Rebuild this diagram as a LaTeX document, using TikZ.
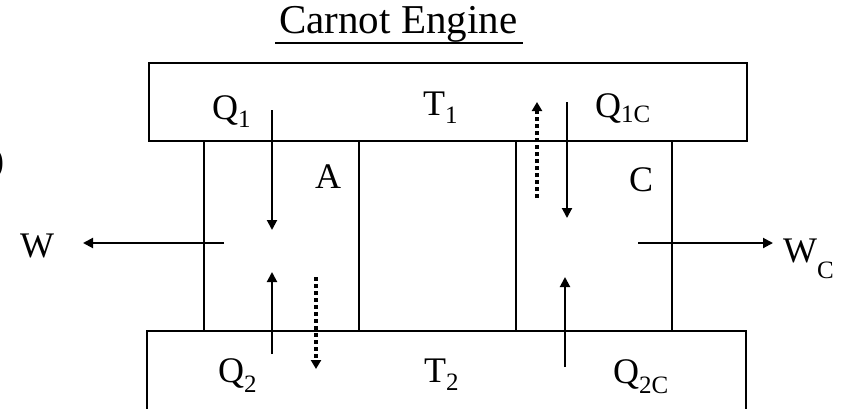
\documentclass[tikz,border=0pt]{standalone}
\usepackage{fontspec}
\setmainfont{Liberation Serif}
\usetikzlibrary{arrows.meta}
\newcommand\lsub[2][8pt]{\raisebox{-#1}{\fontsize{25}{27}\selectfont #2}}
\begin{document}
\begin{tikzpicture}[x=1pt,y=-1pt,
  box/.style={draw, line width=2pt, inner sep=0pt, outer sep=0pt, anchor=north west},
  lbl/.style={font=\fontsize{36}{40}\selectfont, inner sep=0pt, anchor=base west},
  flow/.style={line width=2pt, -{Triangle[width=10pt,length=10pt]}},
  back/.style={line width=4pt, dash pattern=on 4pt off 3pt, -{Triangle[width=10pt,length=9pt]}}]
\useasboundingbox (0,0) rectangle (843,408);
\clip (0,0) rectangle (843,408);
% reservoirs and engines
\node[box, minimum width=598pt, minimum height=78pt] (hot) at (149,63) {};
\node[box, minimum width=599pt, minimum height=110pt] (cold) at (147,331) {};
\node[box, minimum width=155pt, minimum height=190pt] (engA) at (204,141) {};
\node[box, minimum width=156pt, minimum height=190pt] (engC) at (516,141) {};
% labels
\node[lbl, font=\fontsize{41}{45}\selectfont] (title) at (279,33) {Carnot Engine};
\draw[line width=2.5pt] ([xshift=-4pt,yshift=-10pt]title.base west) -- ([xshift=6pt,yshift=-10pt]title.base east);
\node[lbl] (q1) at (212,119) {Q\lsub{1}};
\node[lbl] (t1) at (423,115) {T\lsub{1}};
\node[lbl] (q1c) at (595,117) {Q\lsub[5pt]{1C}};
\node[lbl] (a) at (315,188) {A};
\node[lbl] (c) at (629,191) {C};
\node[lbl] (w) at (20,257) {W};
\node[lbl] (wc) at (783,262) {W\lsub[16pt]{C}};
\node[lbl] (q2) at (218,382) {Q\lsub[10pt]{2}};
\node[lbl] (t2) at (424,382) {T\lsub{2}};
\node[lbl] (q2c) at (613,383) {Q\lsub[10pt]{2C}};
\node[lbl] (frag) at (-8,172) {)};
% arrow end points
\coordinate (q1s) at (272,110); \coordinate (q1e) at (272,230);
\coordinate (q2s) at (272,354); \coordinate (q2e) at (272,272);
\coordinate (das) at (316,277); \coordinate (dae) at (316,369);
\coordinate (ws) at (224,243);  \coordinate (we) at (83,243);
\coordinate (q1cs) at (567,102); \coordinate (q1ce) at (567,218);
\coordinate (dcs) at (537,198); \coordinate (dce) at (537,102);
\coordinate (q2cs) at (565,367); \coordinate (q2ce) at (565,277);
\coordinate (wcs) at (638,243); \coordinate (wce) at (773,243);
% arrows
\draw[flow] (q1s) -- (q1e);
\draw[flow] (q2s) -- (q2e);
\draw[back] (das) -- (dae);
\draw[flow] (ws) -- (we);
\draw[flow] (q1cs) -- (q1ce);
\draw[back] (dcs) -- (dce);
\draw[flow] (q2cs) -- (q2ce);
\draw[flow] (wcs) -- (wce);
\end{tikzpicture}
\end{document}
